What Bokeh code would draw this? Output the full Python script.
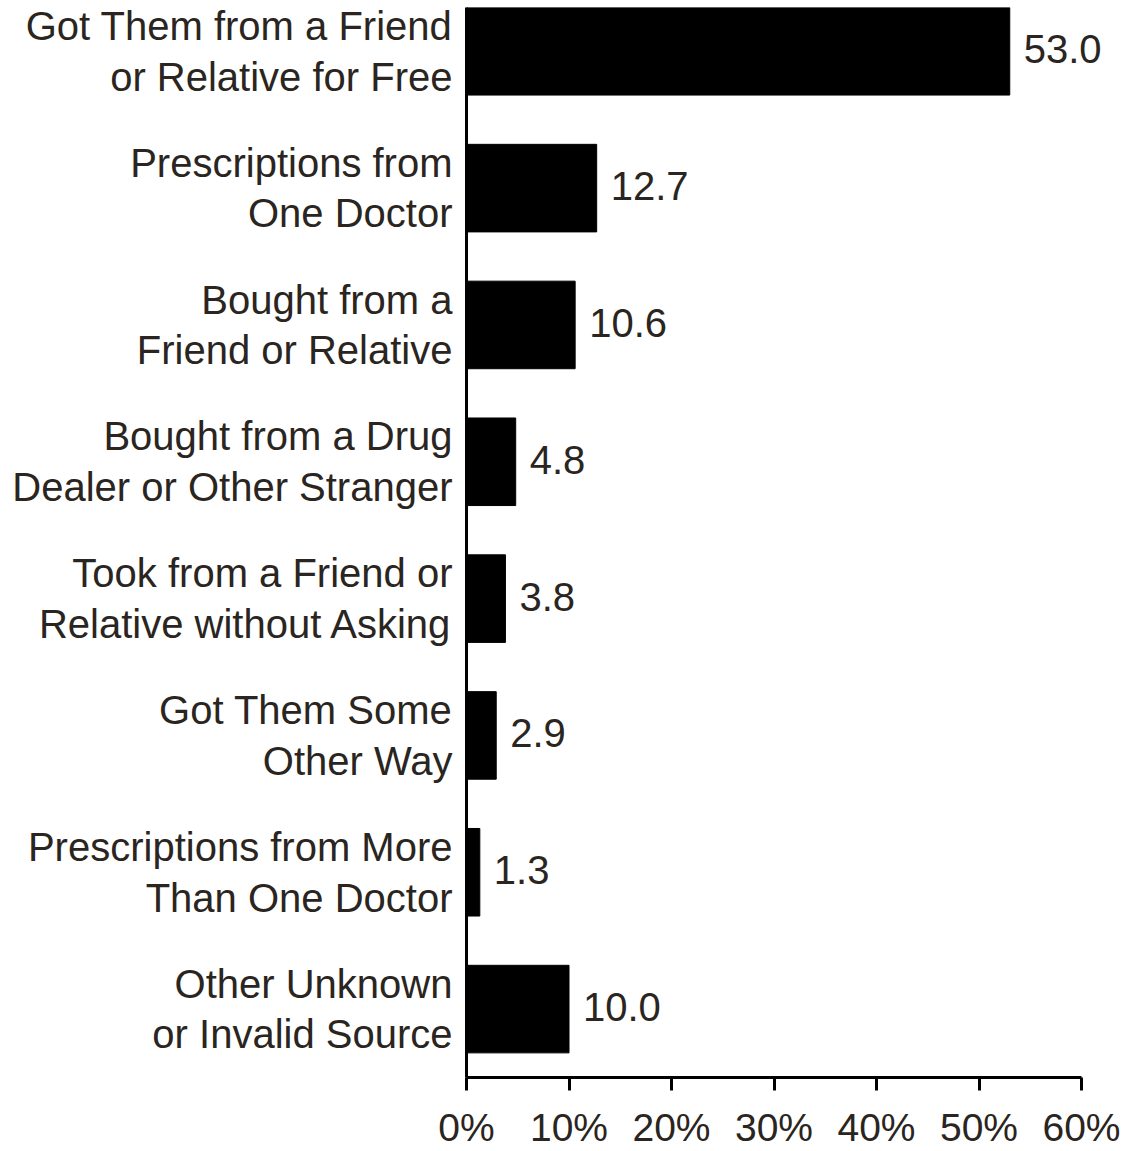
from bokeh.plotting import figure
from bokeh.models import ColumnDataSource, LabelSet, Range1d, FixedTicker, PrintfTickFormatter
from bokeh.core.properties import value
from bokeh.embed import file_html
from bokeh.resources import INLINE

categories = [
    "Got Them from a Friend\nor Relative for Free",
    "Prescriptions from\nOne Doctor",
    "Bought from a\nFriend or Relative",
    "Bought from a Drug\nDealer or Other Stranger",
    "Took from a Friend or\nRelative without Asking",
    "Got Them Some\nOther Way",
    "Prescriptions from More\nThan One Doctor",
    "Other Unknown\nor Invalid Source",
]
values = [53.0, 12.7, 10.6, 4.8, 3.8, 2.9, 1.3, 10.0]
x_ticks = [0, 10, 20, 30, 40, 50, 60]

FONT = "Liberation Sans"
TXT = "#2a2520"
FS = "40px"

pos = list(range(len(categories)))

W, H = 1130, 1151
LEFT = 466
PX_PER_PCT = 10.25
x_end = (W - 8 - LEFT) / PX_PER_PCT

p = figure(width=W, height=H, output_backend="svg", toolbar_location=None,
           x_range=Range1d(0, x_end), y_range=Range1d(7.50, -0.32),
           min_border_left=LEFT, min_border_right=8, min_border_top=7, min_border_bottom=H - 1078)
p.outline_line_color = None
p.grid.visible = False
p.background_fill_color = "white"
p.border_fill_color = "white"

src = ColumnDataSource(dict(y=pos, v=values, lab=[f"{v:.1f}" for v in values]))
p.hbar(y="y", left=0, right="v", height=0.64, source=src,
       fill_color="black", line_color="black")

p.add_layout(LabelSet(x="v", y="y", text="lab", source=src, x_offset=14, y_offset=2,
                      text_align="left", text_baseline="middle",
                      text_font=value(FONT), text_font_size=value(FS), text_color=value(TXT)))

xa = p.xaxis[0]
xa.ticker = FixedTicker(ticks=x_ticks)
xa.formatter = PrintfTickFormatter(format="%d%%")
xa.bounds = (0, 60)
xa.axis_line_width = 3
xa.axis_line_color = "black"
xa.major_tick_line_width = 3
xa.major_tick_line_color = "black"
xa.major_tick_out = 13
xa.major_tick_in = 0
xa.minor_tick_line_color = None
xa.major_label_standoff = 15
xa.major_label_text_font = FONT
xa.major_label_text_font_size = "39px"
xa.major_label_text_color = TXT
xa.major_label_text_line_height = 1.0

ya = p.yaxis[0]
ya.ticker = FixedTicker(ticks=pos)
ya.major_label_overrides = {i: c for i, c in zip(pos, categories)}
ya.axis_line_width = 3
ya.axis_line_color = "black"
ya.major_tick_line_color = None
ya.major_tick_in = 0
ya.major_tick_out = 0
ya.minor_tick_line_color = None
ya.major_label_standoff = 14
ya.major_label_text_font = FONT
ya.major_label_text_font_size = FS
ya.major_label_text_color = TXT
ya.major_label_text_line_height = 1.15

open("out.html", "w").write(file_html(p, INLINE))
